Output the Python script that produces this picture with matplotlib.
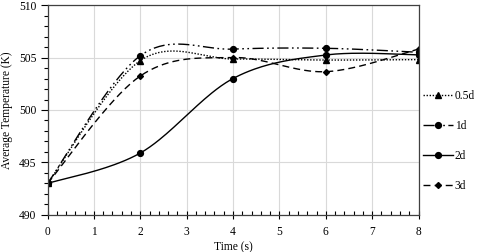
import matplotlib
matplotlib.use("Agg")
import matplotlib.pyplot as plt
from matplotlib.ticker import MultipleLocator, AutoMinorLocator
import numpy as np

# Datos
time_s = [0, 2, 4, 6, 8]
temp_05d = [493.0, 504.7, 504.86, 504.76, 504.8]
temp_1d = [493.0, 505.17, 505.8, 505.88, 505.5]
temp_2d = [493.0, 495.9, 503.0, 505.24, 505.25]
temp_3d = [493.0, 503.24, 505.0, 503.65, 505.8]
labels = ["0.5d", "1d", "2d", "3d"]


# Curva suavizada estilo Excel (Bezier tipo Catmull-Rom)
def smooth(x, y, n=40):
    x = np.asarray(x, float)
    y = np.asarray(y, float)
    pts = np.column_stack([x, y])
    out = []
    for i in range(len(pts) - 1):
        p0 = pts[max(i - 1, 0)]
        p1 = pts[i]
        p2 = pts[i + 1]
        p3 = pts[min(i + 2, len(pts) - 1)]
        c1 = p1 + (p2 - p0) / 6
        c2 = p2 - (p3 - p1) / 6
        t = np.linspace(0, 1, n)[:, None]
        seg = ((1 - t) ** 3) * p1 + 3 * ((1 - t) ** 2) * t * c1 + 3 * (1 - t) * t ** 2 * c2 + t ** 3 * p2
        out.append(seg if i == 0 else seg[1:])
    seg = np.vstack(out)
    return seg[:, 0], seg[:, 1]


plt.rcParams["font.family"] = ["Liberation Serif", "DejaVu Serif"]
plt.rcParams["font.size"] = 8.3

fig = plt.figure(figsize=(4.8, 2.52), dpi=100)
ax = fig.add_axes([0.099, 0.147, 0.773, 0.833])

series = [
    (temp_05d, (0, (1, 1.2)), "^", 4),
    (temp_1d, (0, (8, 2.5, 1.2, 2.5, 1.2, 2.5)), "o", 4.2),
    (temp_2d, "-", "o", 4.2),
    (temp_3d, (0, (5, 3)), "D", 3),
]

for (vals, ls, mk, ms), lab in zip(series, labels):
    xs, ys = smooth(time_s, vals)
    ax.plot(xs, ys, color="black", linestyle=ls, linewidth=1)
    ax.plot(time_s, vals, color="black", linestyle="none", marker=mk, markersize=ms)
    # entrada de la leyenda
    ax.plot([], [], color="black", linestyle=ls, linewidth=1, marker=mk, markersize=ms, label=lab)

ax.set_xlim(0, 8)
ax.set_ylim(490, 510)
ax.xaxis.set_major_locator(MultipleLocator(1))
ax.xaxis.set_minor_locator(AutoMinorLocator(5))
ax.yaxis.set_major_locator(MultipleLocator(5))
ax.yaxis.set_minor_locator(MultipleLocator(1))
ax.tick_params(axis="x", which="major", direction="inout", length=6, width=0.8, pad=5)
ax.tick_params(axis="x", which="minor", direction="in", length=3, width=0.8)
ax.tick_params(axis="y", which="major", direction="out", length=5, width=0.8, pad=3)
ax.tick_params(axis="y", which="minor", direction="out", length=3, width=0.8)
ax.grid(True, which="major", color="#d9d9d9", linewidth=0.8)
ax.set_axisbelow(True)
for s in ax.spines.values():
    s.set_color("#404040")
    s.set_linewidth(0.9)

ax.set_xlabel("Time (s)", labelpad=2)
ax.set_ylabel("Average Temperature (K)", labelpad=4)

handles, labs = ax.get_legend_handles_labels()
fig.legend(handles, labs, loc="center left", bbox_to_anchor=(0.869, 0.44),
           frameon=False, borderpad=0, handlelength=2.6, handletextpad=0.15,
           labelspacing=1.55, fontsize=8.3)

fig.savefig("out.png", dpi=100)
